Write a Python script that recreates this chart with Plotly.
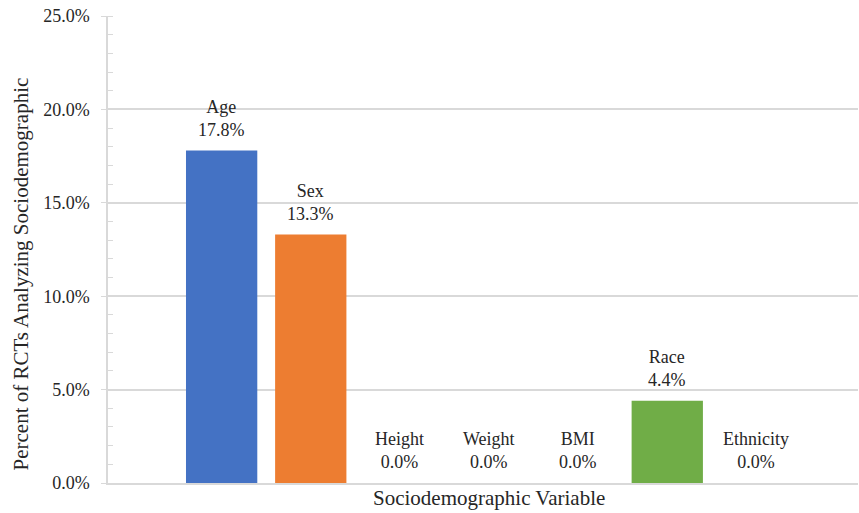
import plotly.graph_objects as go

# Share of RCTs analysing each sociodemographic variable
variables = ["Age", "Sex", "Height", "Weight", "BMI", "Race", "Ethnicity"]
percent = [17.8, 13.3, 0.0, 0.0, 0.0, 4.4, 0.0]
bar_colors = ["#4472C4", "#ED7D31", "#A5A5A5", "#FFC000", "#5B9BD5", "#70AD47", "#264478"]

y_ticks = [0, 5, 10, 15, 20, 25]
y_tick_text = [f"{v:.1f}%" for v in y_ticks]

FONT = "Liberation Serif"
TEXT_COLOR = "#262626"
GRID = "#d9d9d9"

xpos = list(range(len(variables)))

fig = go.Figure(
    go.Bar(
        x=xpos,
        y=percent,
        width=0.8,
        marker=dict(color=bar_colors, line=dict(width=0)),
        hoverinfo="skip",
    )
)

# Two-line data labels: variable name above its value
for i, (name, val) in enumerate(zip(variables, percent)):
    fig.add_annotation(
        x=i, y=val, xref="x", yref="y",
        text=f"{name}<br>{val:.1f}%",
        showarrow=False, yanchor="bottom", yshift=9,
        font=dict(family=FONT, size=18, color=TEXT_COLOR),
    )

# Axis titles
fig.add_annotation(
    x=0.508, y=0, xref="paper", yref="paper",
    text="Sociodemographic Variable", showarrow=False,
    xanchor="center", yanchor="middle", yshift=-15,
    font=dict(family=FONT, size=21, color=TEXT_COLOR),
)
fig.add_annotation(
    x=0, y=0.4465, xref="paper", yref="paper",
    text="Percent of RCTs Analyzing Sociodemographic", showarrow=False,
    textangle=-90, xanchor="center", yanchor="middle", xshift=-87,
    font=dict(family=FONT, size=21, color=TEXT_COLOR),
)

fig.update_layout(
    width=859, height=513,
    margin=dict(l=108, r=1, t=16, b=30),
    paper_bgcolor="white", plot_bgcolor="white",
    showlegend=False,
    font=dict(family=FONT, size=18, color=TEXT_COLOR),
    xaxis=dict(
        range=[-1.275, 7.14],
        showticklabels=False, ticks="", showgrid=False, zeroline=False,
        showline=True, linecolor=GRID, linewidth=1.5,
        fixedrange=True,
    ),
    yaxis=dict(
        range=[0, 25],
        tickvals=y_ticks, ticktext=y_tick_text,
        ticks="outside", ticklen=5, tickcolor=GRID, tickwidth=1,
        ticklabelstandoff=8,
        showgrid=True, gridcolor=GRID, gridwidth=1.5,
        zeroline=False,
        showline=True, linecolor=GRID, linewidth=1.5,
        minor=dict(dtick=1, ticks="inside", ticklen=5, tickcolor=GRID, showgrid=False),
        tickfont=dict(family=FONT, size=18, color=TEXT_COLOR),
        fixedrange=True,
    ),
)

fig.write_html("out.html")
